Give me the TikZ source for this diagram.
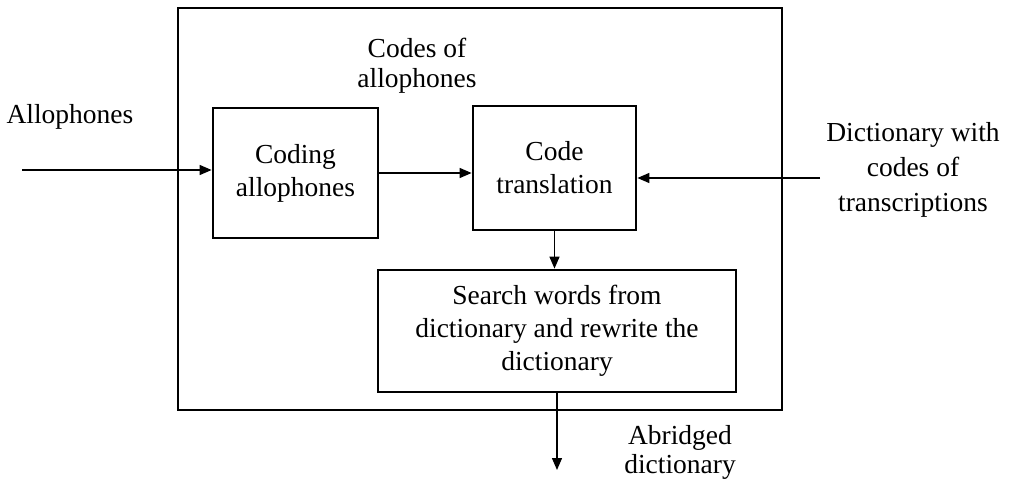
\documentclass[tikz,border=0pt]{standalone}
\usepackage{fontspec}
\setmainfont{Liberation Serif}
\usetikzlibrary{arrows.meta,calc}
\tikzset{
  blockbox/.style={draw, line width=1.4pt, align=center, inner sep=0pt,
    font=\fontsize{13.75}{16.5}\selectfont},
  flowarrow/.style={-{Triangle[length=6pt,width=5pt]}, line width=0.7pt},
  outlabel/.style={align=center, inner sep=0pt, font=\fontsize{13.75}{16.5}\selectfont}
}

\begin{document}
\begin{tikzpicture}[x=0.5pt, y=-0.5pt, line join=miter]
\useasboundingbox (0,0) rectangle (1009,487);

% ============ OUTER FRAME ============
\draw[line width=1pt] (178,8) rectangle (782,410);

% ============ BLOCKS ============
\node[blockbox, minimum width=82.5pt, minimum height=65pt] (coding) at (295.5,173) {Coding\\allophones};
\node[blockbox, minimum width=81.5pt, minimum height=62pt] (transl) at (554.5,168) {Code\\translation};
\node[blockbox, minimum width=179pt, minimum height=61pt] (search) at (557,331) {Search words from\\dictionary and rewrite the\\dictionary};

% ============ LABELS ============
\node[outlabel, font=\fontsize{13.75}{15}\selectfont] (codeslbl) at (417,66) {Codes of\\allophones};
\node[outlabel] (alloplbl) at (70,117) {Allophones};
\node[outlabel, font=\fontsize{13.75}{17.5}\selectfont] (dictlbl) at (913,170) {Dictionary with\\codes of\\transcriptions};
\node[outlabel, font=\fontsize{13.75}{14.5}\selectfont] (abrlbl) at (680,452) {Abridged\\dictionary};

% ============ CONNECTORS ============
\coordinate (inA) at (22,170);
\coordinate (inD) at (820,178);
\coordinate (outS) at (556,470);
\draw[flowarrow] (inA) -- (inA -| coding.west);
\draw[flowarrow] (coding.east) -- (coding.east -| transl.west);
\draw[flowarrow] (inD) -- (inD -| transl.east);
\draw[flowarrow] (transl.south) -- (transl.south |- search.north);
\draw[flowarrow] (search.south) -- (search.south |- outS);
\end{tikzpicture}
\end{document}
